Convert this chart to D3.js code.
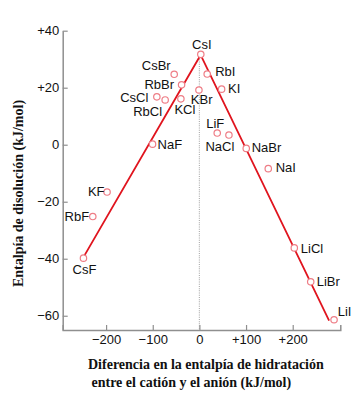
<!DOCTYPE html>
<html>
<head>
<meta charset="utf-8">
<script src="https://cdn.jsdelivr.net/npm/d3@7"></script>
<style>
  html, body { margin: 0; padding: 0; background: #fff; }
  svg { display: block; }
</style>
</head>
<body>
<svg id="chart" width="357" height="400"></svg>
<script>
// ---- data ----
const salts = ["CsI","RbI","KI","KBr","LiF","NaCl","NaBr","NaI","CsBr","RbBr","KCl","CsCl","RbCl","NaF","KF","RbF","CsF","LiCl","LiBr","LiI"];
const hydrationDiff = [3, 16.7, 47.6, -1, 38.2, 63.3, 100.4, 147.6, -54, -38.2, -39.7, -91.2, -73.4, -100.4, -197.9, -228.5, -248.5, 203.4, 238.6, 288.6];
const dissolutionH = [31.7, 24.8, 19.5, 19.2, 4.1, 3.4, -1.3, -8.4, 24.7, 21, 16.1, 16.8, 15.7, 0.2, -16.6, -25.2, -39.8, -36.2, -48.1, -61.4];
const trendX = [-249, 2.6, 278];
const trendY = [-39.6, 31.5, -61.7];
const xTicks = [-200, -100, 0, 100, 200];
const yTicks = [-60, -40, -20, 0, 20, 40];
const xTitleLines = ["Diferencia en la entalpía de hidratación", " entre el catión y el anión (kJ/mol)"];
const yTitle = "Entalpía de disolución (kJ/mol)";

// ---- label layout (anchor, dx, dy in px) ----
const labelLayout = {
  CsI: ["middle", 1, -10], RbI: ["start", 8, -3], KI: ["start", 6.5, -1], KBr: ["middle", 2.7, 9],
  LiF: ["middle", -2, -10], NaCl: ["middle", -9, 11.4], NaBr: ["start", 5.4, -1], NaI: ["start", 7.4, -1],
  CsBr: ["end", -3.5, -9.3], RbBr: ["end", -7.5, -1], KCl: ["middle", 4, 10.5], CsCl: ["end", -8.5, 0],
  RbCl: ["end", -3, 11.7], NaF: ["start", 5, 0], KF: ["end", -2.5, -0.6], RbF: ["end", -3.7, 0],
  CsF: ["middle", 1, 11.3], LiCl: ["start", 6.5, 0], LiBr: ["start", 6, -0.6], LiI: ["start", 3.7, -8.6]
};

const svg = d3.select("#chart");
const x = d3.scaleLinear().domain([-293, 302]).range([62.7, 340.3]);
const y = d3.scaleLinear().domain([-65, 40]).range([330, 30.7]);

const fmt = v => v > 0 ? "+" + v : (v < 0 ? "\u2212" + Math.abs(v) : "0");
const sans = "'Liberation Sans', Arial, sans-serif";
const serif = "'Liberation Serif', 'Times New Roman', serif";
const axisColor = "#8f8f8f";

// reference dotted line at x = 0
svg.append("line")
  .attr("x1", x(0)).attr("x2", x(0))
  .attr("y1", y(trendY[1])).attr("y2", y(-65))
  .attr("stroke", "#b0b0b0").attr("stroke-width", 1.2)
  .attr("stroke-dasharray", "1,1.2");

// axes
const yAxis = d3.axisLeft(y).tickValues(yTicks).tickFormat(fmt)
  .tickSizeInner(-5).tickSizeOuter(0).tickPadding(3.5);
const xAxis = d3.axisBottom(x).tickValues(xTicks).tickFormat(fmt)
  .tickSizeInner(-5).tickSizeOuter(-5).tickPadding(5);

const gy = svg.append("g").attr("transform", `translate(${x.range()[0]},0)`).call(yAxis);
const gx = svg.append("g").attr("transform", `translate(0,${y.range()[0]})`).call(xAxis);
[gx, gy].forEach(g => {
  g.select(".domain").attr("stroke", axisColor).attr("stroke-width", 1.5);
  g.selectAll(".tick line").attr("stroke", axisColor).attr("stroke-width", 1.2);
  g.selectAll(".tick text").attr("fill", "#111").style("font-family", sans).style("font-size", "13px");
});

// trend lines
const pts = trendX.map((v, i) => [v, trendY[i]]);
svg.append("path")
  .attr("d", d3.line().x(d => x(d[0])).y(d => y(d[1]))(pts))
  .attr("fill", "none").attr("stroke", "#e0141e").attr("stroke-width", 1.8)
  .attr("stroke-linejoin", "miter");

// points
const data = salts.map((s, i) => ({ name: s, xv: hydrationDiff[i], yv: dissolutionH[i] }));
svg.append("g").selectAll("circle").data(data).join("circle")
  .attr("cx", d => x(d.xv)).attr("cy", d => y(d.yv)).attr("r", 3.2)
  .attr("fill", "#fff").attr("stroke", "#ee7d86").attr("stroke-width", 1.2);

// labels
svg.append("g").selectAll("text").data(data).join("text")
  .attr("x", d => x(d.xv) + labelLayout[d.name][1])
  .attr("y", d => y(d.yv) + labelLayout[d.name][2])
  .attr("dy", "0.36em")
  .attr("text-anchor", d => labelLayout[d.name][0])
  .style("font-family", sans).style("font-size", "13px").attr("fill", "#111")
  .text(d => d.name);

// axis titles
const xt = svg.append("text").style("font-family", serif).style("font-size", "14px")
  .style("font-weight", "bold").attr("fill", "#111");
xt.selectAll("tspan").data(xTitleLines).join("tspan")
  .attr("x", 88).attr("y", (d, i) => 369 + i * 18)
  .attr("xml:space", "preserve").style("white-space", "pre")
  .text(d => d);

svg.append("text")
  .attr("transform", "translate(23,193.5) rotate(-90)")
  .attr("text-anchor", "middle")
  .style("font-family", serif).style("font-size", "14px").style("font-weight", "bold")
  .attr("fill", "#111")
  .text(yTitle);
</script>
</body>
</html>
